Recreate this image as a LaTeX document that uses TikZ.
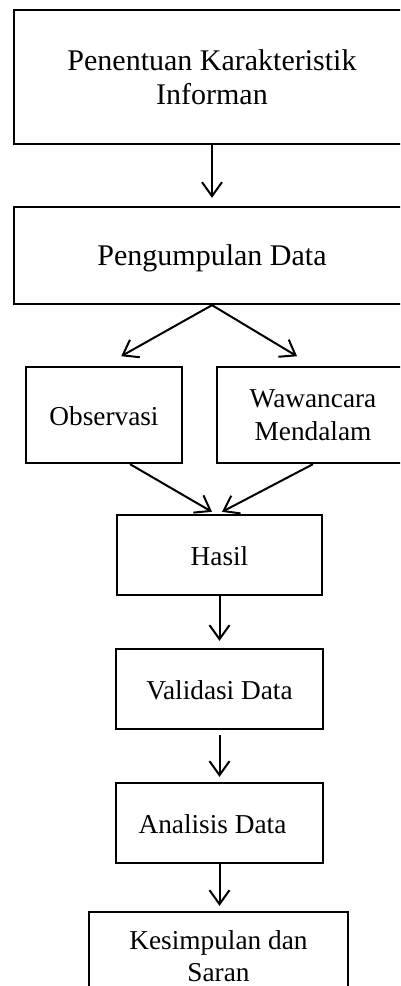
\documentclass[tikz,border=0pt]{standalone}
\usepackage{fontspec}
\setmainfont{Liberation Serif}
\usetikzlibrary{arrows.meta,calc}
\begin{document}
\begin{tikzpicture}[x=1pt,y=-1pt,
  box/.style={draw, line width=2.3pt, inner sep=0pt, align=center},
  big/.style={font=\fontsize{30}{34}\selectfont},
  small/.style={font=\fontsize{27.3}{32.5}\selectfont},
  one/.style={text height=20pt, text depth=0pt},
  arr/.style={line width=2pt, -{Straight Barb[length=14pt,width=20pt]}}]
\useasboundingbox (0,0) rectangle (400,986);
\clip (0,0) rectangle (400,986);
\node[box,big,minimum width=396pt,minimum height=134pt] (pk) at (212,77) {Penentuan Karakteristik\\Informan};
\node[box,big,one,minimum width=396pt,minimum height=97pt] (pd) at (212,255.5) {Pengumpulan Data};
\node[box,small,one,minimum width=156pt,minimum height=96pt] (obs) at (104,415) {Observasi};
\node[box,small,minimum width=192pt,minimum height=96pt] (waw) at (313,415) {Wawancara\\Mendalam};
\node[box,small,one,minimum width=205pt,minimum height=80pt] (hs) at (219.5,555) {Hasil};
\node[box,small,one,minimum width=207pt,minimum height=80pt] (vd) at (219.5,689) {Validasi Data};
\node[box,small,one,minimum width=207pt,minimum height=80pt] (an) at (219.5,823) {Analisis Data\hspace{14pt}};
\node[box,small,minimum width=259pt,minimum height=88pt] (ks) at (218.5,956) {Kesimpulan dan\\Saran};
\draw[arr] (pk.south) -- ([yshift=8pt]pd.north);
\draw[arr, shorten >=19.7pt] (pd.south) -- (obs.north);
\draw[arr, shorten >=18.6pt] (pd.south) -- (waw.north);
\draw[arr] ([xshift=26pt]obs.south) -- ([xshift=-7.5pt,yshift=2pt]hs.north);
\draw[arr] (waw.south) -- ([xshift=2.5pt,yshift=2pt]hs.north);
\draw[arr, shorten >=7pt] (hs.south) -- (vd.north);
\draw[arr, shorten <=5pt, shorten >=5pt] (vd.south) -- (an.north);
\draw[arr, shorten >=5pt] (an.south) -- (an.south |- ks.north);
\end{tikzpicture}
\end{document}
